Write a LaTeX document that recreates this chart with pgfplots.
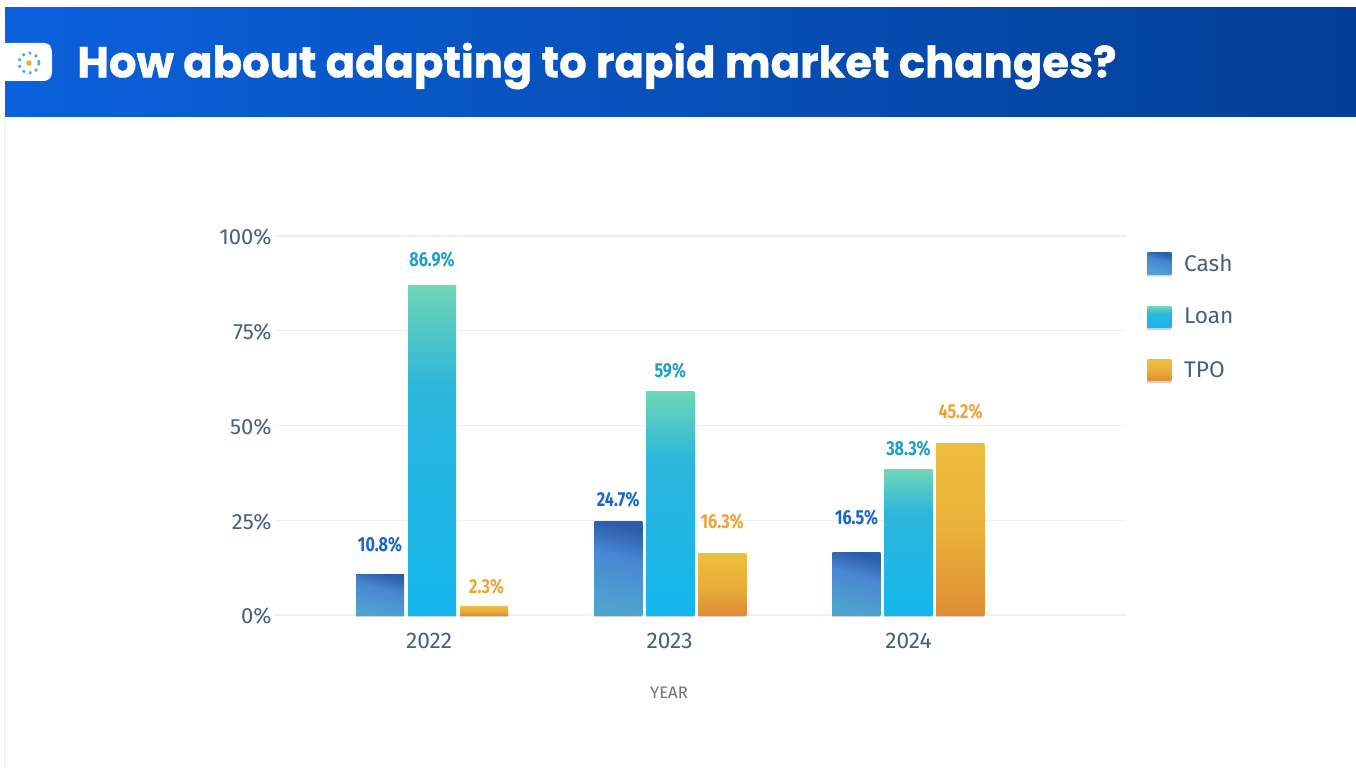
\documentclass[border=0pt]{standalone}
\usepackage{pgfplots}
\usepackage{fontspec}
\pgfplotsset{compat=1.18}
\usetikzlibrary{shadows,calc}
\setmainfont{Lato}
\newfontfamily\titlefont[BoldFeatures={FakeBold=0.9}]{Poppins}
\newfontfamily\axisfont{Fira Sans}
\newfontfamily\labfont[FakeStretch=0.8]{Fira Sans}
\definecolor{txt}{HTML}{4A5E80}
\definecolor{gridc}{HTML}{EEF0F2}
\definecolor{cashA}{HTML}{2B5EA8}\definecolor{cashB}{HTML}{4A86D4}\definecolor{cashC}{HTML}{4FA4CE}
\definecolor{loanA}{HTML}{6FD6B6}\definecolor{loanB}{HTML}{2EB6DC}\definecolor{loanC}{HTML}{14B6EC}
\definecolor{tpoA}{HTML}{EEBE3E}\definecolor{tpoB}{HTML}{EAB03A}\definecolor{tpoC}{HTML}{DE8E36}
\definecolor{cashL}{HTML}{1666CC}\definecolor{loanL}{HTML}{1F9EC6}\definecolor{tpoL}{HTML}{EEA33A}
\definecolor{headA}{HTML}{0B60DC}\definecolor{headB}{HTML}{033F96}
\pgfdeclareverticalshading{cashS}{100bp}{color(0bp)=(cashC); color(25bp)=(cashC); color(57bp)=(cashB); color(75bp)=(cashA); color(100bp)=(cashA)}
\pgfdeclareverticalshading{loanS}{100bp}{color(0bp)=(loanC); color(25bp)=(loanC); color(60bp)=(loanB); color(75bp)=(loanA); color(100bp)=(loanA)}
\pgfdeclareverticalshading{tpoS}{100bp}{color(0bp)=(tpoC); color(25bp)=(tpoC); color(50bp)=(tpoB); color(75bp)=(tpoA); color(100bp)=(tpoA)}
\tikzset{shad/.style={drop shadow={shadow xshift=0pt,shadow yshift=-1.4pt,opacity=0.14,fill=black}}}
\pgfplotsset{
  barlabel/.style 2 args={nodes near coords={\pgfmathprintnumber[precision=1,assume math mode=true]{\pgfplotspointmeta}\%},
    every node near coord/.append style={font=\labfont\bfseries\fontsize{15.2}{17}\selectfont,text=#1,anchor=center,yshift=#2*0.75pt}},
  cashbar/.style={draw=none,shading=cashS,shading angle=-15,shad,bar shift=-39pt},
  loanbar/.style={draw=none,shading=loanS,shad,bar shift=0pt},
  tpobar/.style={draw=none,shading=tpoS,shad,bar shift=39pt},
}
\begin{document}
\begin{tikzpicture}[x=0.75pt,y=0.75pt]
\path[use as bounding box] (0,0) rectangle (1356,768);
\fill[white] (0,0) rectangle (1356,768);
\draw[gridc,line width=1pt] (4.5,0) -- (4.5,651);
\shade[left color=headA,right color=headB] (5,651) rectangle (1356,760);
\fill[white] (5,687) -- (42,687) .. controls (50,687) and (52,691) .. (52,697) -- (52,713) .. controls (52,721) and (50,725) .. (44,725) -- (5,725) -- cycle;
\draw[cashC!75!loanA,line width=2pt,dash pattern=on 2pt off 3pt] (29,705) circle (10);
\fill[tpoB] (29,705) circle (2.8);
\node[anchor=west,text=white,inner sep=0pt,font=\titlefont\bfseries\fontsize{32.5}{36}\selectfont] at (77,702) {How about adapting to rapid market changes?};
\begin{axis}[
  at={(206.25pt,114.75pt)},anchor=south west,scale only axis,
  width=638.25pt,height=284.25pt,
  xmin=-0.659,xmax=2.913,ymin=0,ymax=100,
  ybar,bar width=36pt,
  xtick={-0.012,0.997,2},xticklabels={2022,2023,2024},
  ytick={0,25,50,75,100},yticklabels={0\%,25\%,50\%,75\%,100\%},
  ymajorgrids,grid style={gridc,line width=1pt},
  axis line style={draw=none},
  major tick style={draw=none},
  tick label style={font=\axisfont\fontsize{16.5}{18}\selectfont,text=txt},
  xticklabel style={yshift=-6pt,font=\axisfont\fontsize{17}{18}\selectfont},
  yticklabel style={xshift=1pt,yshift=-1pt},
  xlabel={YEAR},
  xlabel style={at={(rel axis cs:0.463,-0.2)},anchor=center,yshift=-1.5pt,font=\axisfont\fontsize{12.5}{14}\selectfont,text=black!55},
  clip=false,
  legend style={at={(rel axis cs:1.0249,0.96)},anchor=north west,draw=none,fill=none,
    font=\axisfont\fontsize{17}{18}\selectfont,text=txt,row sep=22.5pt,inner sep=0pt},
  legend cell align=left,
  legend image code/.code={\path[#1,bar shift=0pt] (0pt,-8pt) rectangle (18pt,8pt);\path (25.5pt,0pt);},
]
% Cash
\addplot[cashbar,barlabel={cashL}{29}] coordinates {(0,10.8)};
\addlegendentry{Cash}
\addplot[cashbar,forget plot,barlabel={cashL}{22}] coordinates {(1,24.7)};
\addplot[cashbar,forget plot,barlabel={cashL}{34.5}] coordinates {(2,16.5)};
% Loan
\addplot[loanbar,barlabel={loanL}{26}] coordinates {(0,86.9)};
\addlegendentry{Loan}
\addplot[loanbar,forget plot,barlabel={loanL}{21}] coordinates {(1,59)};
\addplot[loanbar,forget plot,barlabel={loanL}{21}] coordinates {(2,38.3)};
% TPO
\addplot[tpobar,barlabel={tpoL}{20},every node near coord/.append style={xshift=2pt}] coordinates {(0,2.3)};
\addlegendentry{TPO}
\addplot[tpobar,forget plot,barlabel={tpoL}{32}] coordinates {(1,16.3)};
\addplot[tpobar,forget plot,barlabel={tpoL}{32}] coordinates {(2,45.2)};
\end{axis}
\end{tikzpicture}
\end{document}
